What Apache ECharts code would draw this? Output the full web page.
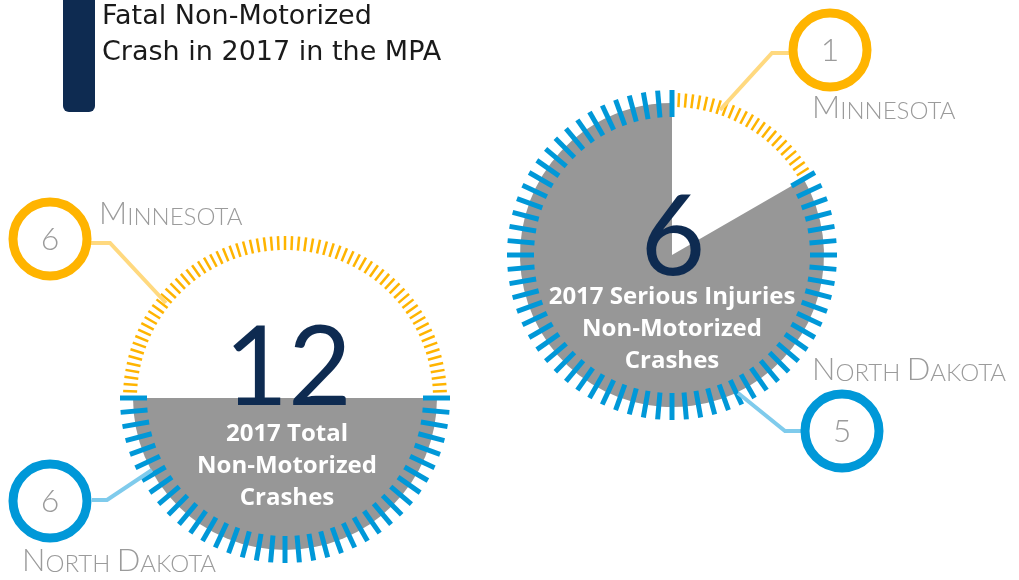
<!DOCTYPE html>
<html>
<head>
<meta charset="utf-8">
<style>
  html, body { margin: 0; padding: 0; background: #fff; }
  #chart { width: 1019px; height: 580px; }
</style>
<script src="https://cdn.jsdelivr.net/npm/echarts@6/dist/echarts.min.js"></script>
</head>
<body>
<div id="chart"></div>
<script>
const states = ['Minnesota', 'North Dakota']
const totalCrashes = [6, 6]
const seriousInjuries = [1, 5]
const titleLines = ['Fatal Non-Motorized', 'Crash in 2017 in the MPA']
const totalCaption = ['2017 Total', 'Non-Motorized', 'Crashes']
const injuryCaption = ['2017 Serious Injuries', 'Non-Motorized', 'Crashes']

const navy = '#0E2B51'
const yellow = '#FFB400'
const yellowLight = '#FFD97F'
const blue = '#0098D8'
const blueLight = '#7FCBEC'
const gray = '#979797'
const labelGray = '#9B9B9B'
const fontFamily = 'Lato, "Open Sans", sans-serif'
const wideFamily = '"Open Sans", Lato, sans-serif'
const titleFamily = '"DejaVu Sans", "Open Sans", sans-serif'

const sum = arr => arr.reduce((a, b) => a + b, 0)
const hidden = {show: false}

/**
 * one dial: grey pie for North Dakota, yellow fine ticks over the
 * Minnesota share, blue coarse ticks over the rest
 */
function dialSeries (center, values, startAngle) {
  const span = 360 * values[0] / sum(values)
  const gaugeBase = {
    type: 'gauge',
    center: center,
    min: 0,
    max: 100,
    silent: true,
    axisLine: {show: false, lineStyle: {width: 0}},
    axisTick: hidden,
    axisLabel: hidden,
    pointer: hidden,
    anchor: hidden,
    title: hidden,
    detail: hidden,
    progress: hidden,
    data: []
  }
  return [
    {
      type: 'pie',
      center: center,
      radius: 152,
      startAngle: startAngle,
      silent: true,
      label: hidden,
      labelLine: hidden,
      z: 1,
      data: values.map((v, i) => ({
        name: states[i],
        value: v,
        itemStyle: {color: i === 0 ? 'rgba(0,0,0,0)' : gray}
      }))
    },
    {
      ...gaugeBase,
      radius: 162,
      startAngle: startAngle,
      endAngle: startAngle - span,
      splitNumber: Math.round(span / 2.5),
      splitLine: {distance: 0, length: 14, lineStyle: {color: yellow, width: 2.5}},
      z: 2
    },
    {
      ...gaugeBase,
      radius: 165,
      startAngle: startAngle - span,
      endAngle: startAngle - 360,
      splitNumber: Math.round((360 - span) / 5),
      splitLine: {distance: 0, length: 27, lineStyle: {color: blue, width: 5}},
      z: 3
    }
  ]
}

function text (str, x, y, size, color, weight, align, family) {
  return {
    type: 'text',
    z: 100,
    silent: true,
    style: {
      text: str,
      x: x,
      y: y,
      fill: color,
      font: `${weight || 'normal'} ${size}px ${family || fontFamily}`,
      textAlign: align || 'center',
      textVerticalAlign: 'middle'
    }
  }
}

function caption (lines, x, y) {
  return lines.map((l, i) => text(l, x, y + i * 32, 24, '#fff', 'bold', 'center', wideFamily))
}

function stateLabel (name, x, y) {
  const words = name.toUpperCase().split(' ')
  const parts = words.map(w => `{a|${w[0]}}{b|${w.slice(1)}}`).join('{b| }')
  return {
    type: 'text',
    z: 100,
    silent: true,
    style: {
      text: parts,
      x: x,
      y: y,
      fill: labelGray,
      textVerticalAlign: 'middle',
      rich: {
        a: {fontSize: 31, fontFamily: fontFamily, fontWeight: 300, color: labelGray, verticalAlign: 'bottom'},
        b: {fontSize: 24, fontFamily: fontFamily, fontWeight: 300, color: labelGray, verticalAlign: 'bottom'}
      }
    }
  }
}

function badge (value, cx, cy, color, lineColor, points) {
  return [
    {
      type: 'polyline',
      z: 50,
      silent: true,
      shape: {points: points},
      style: {stroke: lineColor, lineWidth: 4, fill: null}
    },
    {
      type: 'circle',
      z: 60,
      silent: true,
      shape: {cx: cx, cy: cy, r: 37},
      style: {fill: '#fff', stroke: color, lineWidth: 9}
    },
    text(String(value), cx, cy + 1, 32, labelGray, 300)
  ]
}

const leftCenter = [285, 398]
const rightCenter = [672, 255]

const option = {
  animation: false,
  backgroundColor: '#fff',
  series: [
    ...dialSeries(leftCenter, totalCrashes, 180),
    ...dialSeries(rightCenter, seriousInjuries, 90)
  ],
  graphic: [
    {type: 'rect', z: 100, shape: {x: 63, y: -10, width: 32, height: 122, r: 6}, style: {fill: navy}},
    text(titleLines[0], 102, 17, 27, '#1a1a1a', 'normal', 'left', titleFamily),
    text(titleLines[1], 102, 53, 27, '#1a1a1a', 'normal', 'left', titleFamily),

    text(String(sum(totalCrashes)), 288, 370, 110, navy, 'normal'),
    ...caption(totalCaption, 287, 434),
    text(String(sum(seriousInjuries)), 673, 239, 112, navy, 'normal'),
    ...caption(injuryCaption, 672, 297),

    ...badge(totalCrashes[0], 50, 239, yellow, yellowLight, [[90, 243], [110, 243], [166, 303]]),
    stateLabel(states[0], 99, 214),
    ...badge(totalCrashes[1], 50, 501, blue, blueLight, [[92, 500], [107, 500], [152, 470]]),
    stateLabel(states[1], 22, 561),

    ...badge(seriousInjuries[0], 830, 50, yellow, yellowLight, [[790, 53], [772, 53], [720, 110]]),
    stateLabel(states[0], 812, 108),
    ...badge(seriousInjuries[1], 842, 431, blue, blueLight, [[802, 431], [785, 431], [738, 393]]),
    stateLabel(states[1], 812, 370)
  ]
}

const myChart = echarts.init(document.getElementById('chart'))
myChart.setOption(option)
</script>
</body>
</html>
